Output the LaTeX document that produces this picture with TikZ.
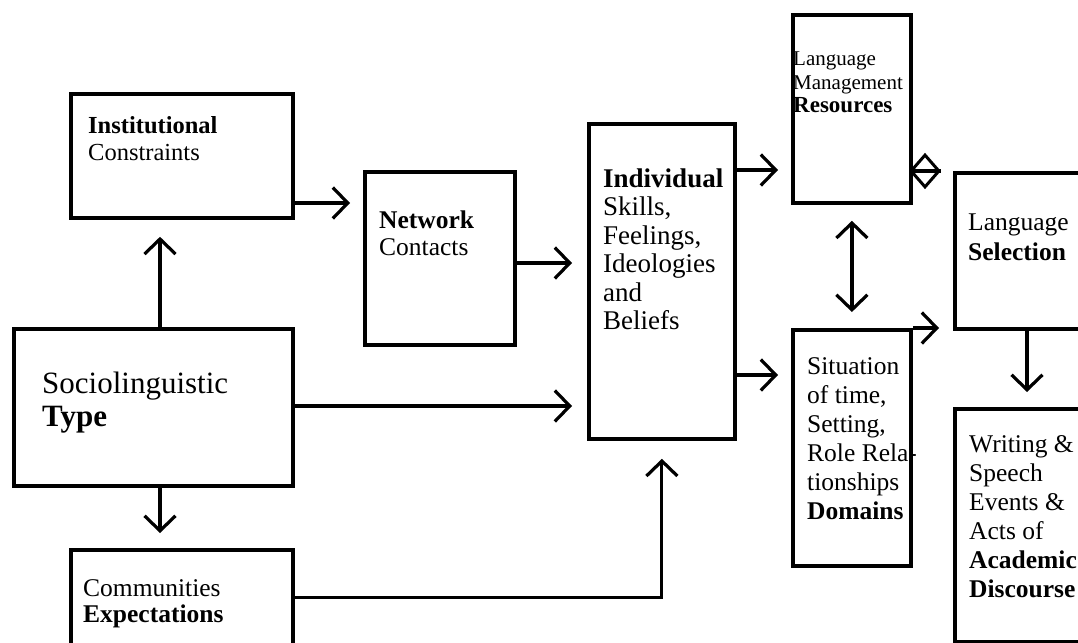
\documentclass[tikz,border=0pt]{standalone}
\usepackage{fontspec}
\setmainfont{Liberation Serif}
\usetikzlibrary{arrows.meta,shapes.geometric}
\newcommand{\tbx}[3]{\parbox[t]{6cm}{\fontsize{#1}{#2}\selectfont\raggedright #3}}
\begin{document}
\begin{tikzpicture}[x=1pt,y=-1pt,
  box/.style={draw=black, line width=3.8pt, anchor=north west, inner sep=0pt},
  txt/.style={anchor=base west, inner sep=0pt, text=black},
  arr/.style={draw=black, line width=3.8pt, -{Straight Barb[length=15pt,width=31pt,line width=3.2pt]}},
  dbl/.style={draw=black, line width=3.8pt, {Straight Barb[length=15pt,width=31pt,line width=3.2pt]}-{Straight Barb[length=15pt,width=31pt,line width=3.2pt]}},
  dia/.style={draw=black, line width=3pt, shape=diamond, inner sep=0pt, minimum width=29pt, minimum height=33pt}
]
\useasboundingbox (0,0) rectangle (1078,642);
\fill[white] (0,0) rectangle (1078,642);

% boxes
\node[box, minimum width=222pt, minimum height=124pt] (inst) at (69,92) {};
\node[box, minimum width=279pt, minimum height=157pt] (soc) at (12,327) {};
\node[box, minimum width=222pt, minimum height=112pt] (com) at (69,548) {};
\node[box, minimum width=150pt, minimum height=173pt] (net) at (363,170) {};
\node[box, minimum width=146pt, minimum height=315pt] (ind) at (587,122) {};
\node[box, minimum width=118pt, minimum height=188pt] (res) at (791,13) {};
\node[box, minimum width=150pt, minimum height=156pt] (sel) at (953,171) {};
\node[box, minimum width=118pt, minimum height=236pt] (dom) at (791,328) {};
\node[box, minimum width=150pt, minimum height=233pt] (wri) at (953,407) {};

% texts
\node[txt] (tinst) at (88,133) {\tbx{24.5}{27}{\textbf{Institutional}\\Constraints}};
\node[txt] (tsoc) at (42,393) {\tbx{31}{33}{Sociolinguistic\\\textbf{Type}}};
\node[txt] (tcom) at (83,596) {\tbx{25.5}{26}{Communities\\\textbf{Expectations}}};
\node[txt] (tnet) at (379,228) {\tbx{25.5}{27}{\textbf{Network}\\Contacts}};
\node[txt] (tind) at (603,187) {\tbx{27}{28.5}{\textbf{Individual}\\Skills,\\Feelings,\\Ideologies\\and\\Beliefs}};
\node[txt] (tres) at (793,66) {\tbx{21}{23.5}{Language\\Management\\{\fontsize{23}{23.5}\selectfont\textbf{Resources}}}};
\node[txt] (tsel) at (968,230) {\tbx{25.5}{30}{Language\\\textbf{Selection}}};
\node[txt] (tdom) at (807,374) {\tbx{25.5}{29}{Situation\\of time,\\Setting,\\Role Rela-\\tionships\\\textbf{Domains}}};
\node[txt] (twri) at (969,452) {\tbx{25.5}{29}{Writing \&\\Speech\\Events \&\\Acts of\\\textbf{Academic}\\\textbf{Discourse}}};

% connectors
\draw[arr, shorten >=13pt] (inst.east |- 0,203) -- (net.west |- 0,203);
\draw[arr, shorten >=17pt] (soc.north -| 160,0) -- (inst.south -| 160,0);
\draw[arr, shorten >=15pt] (soc.south -| 160,0) -- (com.north -| 160,0);
\draw[arr, shorten >=15pt] (soc.east |- 0,406) -- (ind.west |- 0,406);
\draw[arr, shorten >=15pt] (net.east |- 0,263) -- (ind.west |- 0,263);
\draw[arr, line width=3pt, shorten >=18pt] (com.east |- 0,597) -| (ind.south);
\draw[arr, shorten >=13pt] (ind.east |- 0,170) -- (res.west |- 0,170);
\draw[arr, shorten >=13pt] (ind.east |- 0,375) -- (dom.west |- 0,375);
\draw[dbl, shorten >=16pt, shorten <=16pt] (res.south) -- (dom.north);
\node[dia] (dm) at (925,171) {};
\draw[draw=black, line width=3.8pt] (res.east |- sel.north) -- (dm.east);
\coordinate (domend) at (939,328);
\draw[arr] (dom.north east) -- (domend);
\draw[arr, shorten >=15pt] (sel.south -| 1027,0) -- (wri.north -| 1027,0);
\end{tikzpicture}
\end{document}
